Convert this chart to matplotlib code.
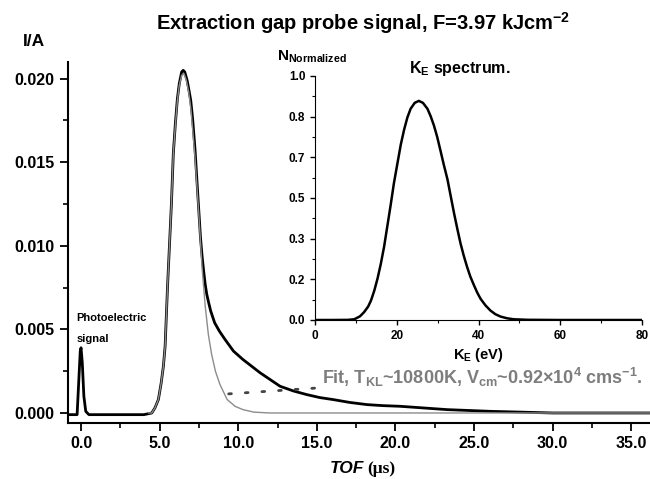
import matplotlib
matplotlib.use("Agg")
import matplotlib.pyplot as plt
from matplotlib.ticker import MultipleLocator, FixedLocator, FormatStrFormatter

# measured probe signal (black)
tof = [-0.83, -0.4, -0.25, -0.15, -0.05, 0.0, 0.08, 0.18, 0.3, 0.5, 2.0, 4.0,
       4.5, 4.7, 4.92, 5.1, 5.24, 5.35, 5.5, 5.6, 5.75, 5.87, 6.0, 6.13, 6.25,
       6.4, 6.5, 6.6, 6.75, 6.85, 6.98, 7.1, 7.25, 7.4, 7.6, 7.7, 7.8, 7.9,
       8.0, 8.12, 8.25, 8.5, 8.8, 9.16, 9.7, 10.3, 11.4, 12.66, 13.5, 14.36,
       15.2, 16.05, 17.1, 18.2, 19.2, 20.3, 21.8, 23.3, 26.0, 30.0, 36.2]
signal = [-0.0001, -0.0001, -0.0001, 0.0018, 0.0037, 0.0039, 0.0030, 0.0010,
          0.0001, -0.0001, -0.0001, -0.0001, 0.0000, 0.0003, 0.0008, 0.0018,
          0.0028, 0.0040, 0.0075, 0.0095, 0.0125, 0.0155, 0.0173, 0.0188,
          0.0197, 0.0204, 0.0205, 0.0204, 0.0199, 0.0194, 0.0187, 0.0176,
          0.0158, 0.0135, 0.0105, 0.0094, 0.0085, 0.0077, 0.0071, 0.0066,
          0.0061, 0.0054, 0.0049, 0.0044, 0.0037, 0.0032, 0.0024, 0.0016,
          0.00132, 0.0011, 0.00092, 0.0008, 0.00063, 0.0005, 0.00044, 0.0004,
          0.0003, 0.0002, 0.0001, 0.0000, 0.0000]

# fitted curve (grey)
tof_fit = [4.3, 4.5, 4.7, 4.92, 5.1, 5.24, 5.35, 5.5, 5.6, 5.75, 5.87, 6.0,
           6.13, 6.25, 6.4, 6.55, 6.7, 6.85, 7.0, 7.25, 7.5, 7.7, 7.9, 8.1,
           8.31, 8.55, 8.84, 9.3, 9.8, 10.3, 11.0, 12.0, 36.2]
fit = [0.0, 0.0, 0.0003, 0.0008, 0.0018, 0.0028, 0.0040, 0.0075, 0.0095,
       0.0125, 0.0155, 0.0172, 0.0187, 0.0196, 0.0202, 0.0203, 0.0199,
       0.0192, 0.0181, 0.0153, 0.0118, 0.0087, 0.0064, 0.0047, 0.0035,
       0.0025, 0.0017, 0.0008, 0.0004, 0.0002, 0.00005, 0.0, 0.0]

# inset: kinetic energy spectrum
ke = [0, 4, 8, 9.6, 11, 12, 13, 13.7, 14.5, 15.3, 16.1, 16.9, 17.7, 18.5,
      19.3, 20.2, 21, 21.8, 22.6, 23.4, 24.4, 25.4, 26.4, 27.5, 28.3, 29.1,
      29.9, 30.7, 31.5, 32.4, 33.2, 34.0, 34.8, 35.6, 36.4, 37.2, 38.0, 38.9,
      39.7, 40.5, 41.7, 42.9, 44.1, 45.4, 47, 48.6, 52, 60, 70, 80]
n_norm = [0, 0, 0.0005, 0.003, 0.015, 0.032, 0.055, 0.08, 0.12, 0.17, 0.23,
          0.30, 0.385, 0.47, 0.56, 0.645, 0.72, 0.78, 0.83, 0.866, 0.89,
          0.898, 0.89, 0.866, 0.835, 0.797, 0.75, 0.694, 0.637, 0.577, 0.508,
          0.439, 0.375, 0.314, 0.263, 0.218, 0.178, 0.142, 0.112, 0.087,
          0.06, 0.039, 0.024, 0.014, 0.007, 0.003, 0.0008, 0.0, 0.0, 0.0]

x_ticks = [0, 5, 10, 15, 20, 25, 30, 35]
y_ticks = [0.0, 0.005, 0.010, 0.015, 0.020]
inset_x_ticks = [0, 20, 40, 60, 80]
inset_y_ticks = [0, 1 / 6, 2 / 6, 3 / 6, 4 / 6, 5 / 6, 1.0]

plt.rcParams["font.family"] = ["Liberation Sans", "DejaVu Sans"]
plt.rcParams["font.weight"] = "bold"
plt.rcParams["axes.titleweight"] = "bold"
plt.rcParams["axes.labelweight"] = "bold"
plt.rcParams["mathtext.default"] = "regular"
plt.rcParams["mathtext.fontset"] = "custom"
plt.rcParams["mathtext.rm"] = "Liberation Sans:bold"
plt.rcParams["mathtext.bf"] = "Liberation Sans:bold"
plt.rcParams["mathtext.it"] = "Liberation Sans:italic:bold"


def main() -> None:
    fig = plt.figure(figsize=(6.5, 4.79), dpi=100)
    ax = fig.add_axes([0.1046, 0.1169, 0.8954, 0.7537])

    ax.plot(tof, signal, color="black", lw=2.0, zorder=2)
    ax.plot(tof_fit, fit, color="#8c8c8c", lw=1.0, zorder=3)
    ax.set_xlim(-0.83, 36.2)
    ax.set_ylim(-0.0006, 0.0210)
    for side in ("top", "right"):
        ax.spines[side].set_visible(False)
    for side in ("left", "bottom"):
        ax.spines[side].set_linewidth(1.5)
    ax.xaxis.set_major_locator(FixedLocator(x_ticks))
    ax.xaxis.set_minor_locator(MultipleLocator(2.5))
    ax.yaxis.set_major_locator(FixedLocator(y_ticks))
    ax.yaxis.set_minor_locator(MultipleLocator(0.0025))
    ax.xaxis.set_major_formatter(FormatStrFormatter("%.1f"))
    ax.yaxis.set_major_formatter(FormatStrFormatter("%.3f"))
    ax.tick_params(which="major", direction="out", length=6, width=1.3,
                   labelsize=11.5)
    ax.tick_params(which="minor", direction="out", length=3.5, width=1.2)

    ax.text(-0.3, 0.00569, "Photoelectric", fontsize=8, va="center")
    ax.text(-0.3, 0.00443, "signal", fontsize=8, va="center")
    ax.annotate("Fit, T$_{KL}$~10800K, V$_{cm}$~0.92×10$^{4}$ cms$^{-1}$.",
                xy=(9.35, 0.00114), xytext=(15.3, 0.00215),
                va="center", ha="left", fontsize=13, color="#7d7d7d",
                arrowprops=dict(arrowstyle="-", linestyle=(0, (1, 5)), lw=2,
                                color="#444444", shrinkA=3, shrinkB=0))

    fig.text(0.5585, 0.952, "Extraction gap probe signal, F=3.97 kJcm$^{-2}$",
             ha="center", va="center", fontsize=14.5)
    fig.text(0.035, 0.914, "I/A", ha="left", va="center", fontsize=12.5)
    fig.text(364 / 650, 0.021, "TOF", ha="right", va="center", fontsize=12.5,
             style="italic")
    fig.text(367 / 650, 0.021, "(μs)", ha="left", va="center", fontsize=12.5,
             family="Liberation Serif")

    ins = fig.add_axes([315 / 650, 1 - 320 / 479, 327 / 650, 244 / 479])
    ins.plot(ke, n_norm, color="black", lw=1.8)
    ins.set_xlim(0, 80)
    ins.set_ylim(0, 1.0)
    ins.patch.set_alpha(0)
    for side in ("top", "right"):
        ins.spines[side].set_visible(False)
    ins.xaxis.set_major_locator(FixedLocator(inset_x_ticks))
    ins.xaxis.set_minor_locator(MultipleLocator(10))
    ins.yaxis.set_major_locator(FixedLocator(inset_y_ticks))
    ins.yaxis.set_minor_locator(MultipleLocator(1 / 12))
    ins.yaxis.set_major_formatter(FormatStrFormatter("%.1f"))
    ins.tick_params(which="major", direction="out", length=3.5, width=1,
                    labelsize=8.5)
    ins.tick_params(which="minor", direction="out", length=2, width=0.8)
    ins.set_xlabel("K$_{E}$ (eV)", fontsize=10.5, labelpad=3)
    fig.text(460 / 650, 1 - 68 / 479, "K$_{E}$ spectrum.", ha="center",
             va="center", fontsize=11.5)
    fig.text(277 / 650, 1 - 57 / 479, "N$_{Normalized}$", ha="left",
             va="center", fontsize=11)

    fig.savefig("out.png", dpi=100)


if __name__ == "__main__":
    main()
